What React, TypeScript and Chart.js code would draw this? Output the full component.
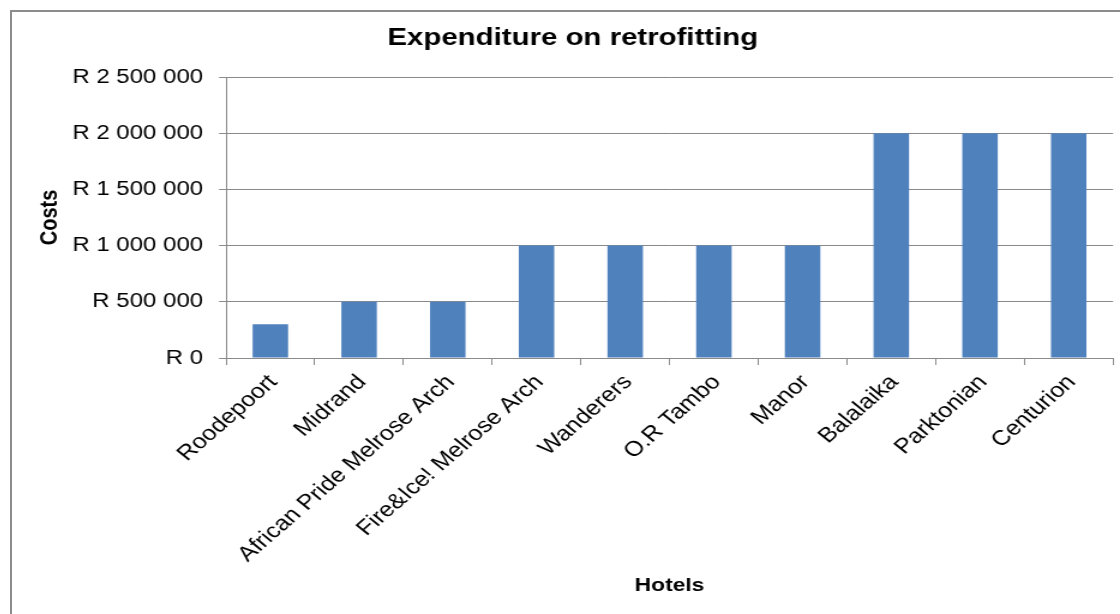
import React, { useEffect, useRef } from "react";
import { Chart, registerables } from "chart.js";

Chart.register(...registerables);

const hotels = [
  "Roodepoort",
  "Midrand",
  "African Pride Melrose Arch",
  "Fire&Ice! Melrose Arch",
  "Wanderers",
  "O.R Tambo",
  "Manor",
  "Balalaika",
  "Parktonian",
  "Centurion",
];
const costs = [300000, 500000, 500000, 1000000, 1000000, 1000000, 1000000, 2000000, 2000000, 2000000];
const yMax = 2500000;
const yStep = 500000;

const fmtRand = (v: number) => "R " + String(Math.round(v)).replace(/\B(?=(\d{3})+(?!\d))/g, " ");

const FONT = "'Liberation Sans', Arial, sans-serif";
const GRID = "#8a8a8a";

export default function App() {
  const ref = useRef<HTMLCanvasElement | null>(null);
  useEffect(() => {
    if (!ref.current) return;
    const chart = new Chart(ref.current, {
      type: "bar",
      data: {
        labels: hotels,
        datasets: [
          {
            label: "Costs",
            data: costs,
            backgroundColor: "#4F81BD",
            borderWidth: 0,
            barPercentage: 0.4,
            categoryPercentage: 1,
          },
        ],
      },
      options: {
        responsive: false,
        animation: false,
        layout: { padding: { left: 18.8, right: 18.8, top: 0, bottom: 0 } },
        plugins: {
          legend: { display: false },
          tooltip: { enabled: false },
          title: {
            display: true,
            text: "Expenditure on retrofitting",
            color: "#000",
            font: { family: FONT, size: 24.5, weight: "bold" },
            padding: { top: 23.3, bottom: 24.3 },
          },
        },
        scales: {
          x: {
            grid: {
              display: true,
              drawOnChartArea: false,
              drawTicks: true,
              tickLength: 7,
              color: GRID,
              offset: true,
            },
            border: { display: true, color: GRID },
            ticks: {
              autoSkip: false,
              minRotation: 46,
              maxRotation: 46,
              padding: 5,
              labelOffset: 2.5,
              color: "#000",
              font: { family: FONT, size: 21 },
            },
            title: {
              display: true,
              text: "Hotels",
              color: "#000",
              font: { family: FONT, size: 19, weight: "bold" },
              padding: { top: 0, bottom: 17 },
            },
            afterFit: (s: any) => {
              s.height = 256;
            },
          },
          y: {
            min: 0,
            max: yMax,
            ticks: {
              stepSize: yStep,
              padding: 13.3,
              color: "#000",
              font: { family: FONT, size: 20 },
              callback: (v: any) => fmtRand(Number(v)),
            },
            grid: { color: GRID, tickLength: 5.8, drawTicks: true },
            border: { display: true, color: GRID },
            title: {
              display: true,
              text: "Costs",
              color: "#000",
              font: { family: FONT, size: 20, weight: "bold" },
              padding: { top: 2.5, bottom: 0 },
            },
            afterFit: (s: any) => {
              s.width = 161.2;
            },
          },
        },
      },
    });
    return () => chart.destroy();
  }, []);

  return (
    <div style={{ position: "fixed", left: 0, top: 0, width: 1120, height: 614, overflow: "hidden", background: "#fff" }}>
      <div
        style={{
          position: "absolute",
          left: 10,
          top: 10,
          width: 1200,
          height: 700,
          borderLeft: "2px solid #8c8c8c",
          borderTop: "2px solid #8c8c8c",
        }}
      />
      <div
        style={{
          position: "absolute",
          left: 10,
          top: 0,
          width: 938,
          height: 614,
          transform: "scaleX(1.2)",
          transformOrigin: "0 0",
        }}
      >
        <canvas ref={ref} width={938} height={614} style={{ display: "block" }} />
      </div>
    </div>
  );
}
